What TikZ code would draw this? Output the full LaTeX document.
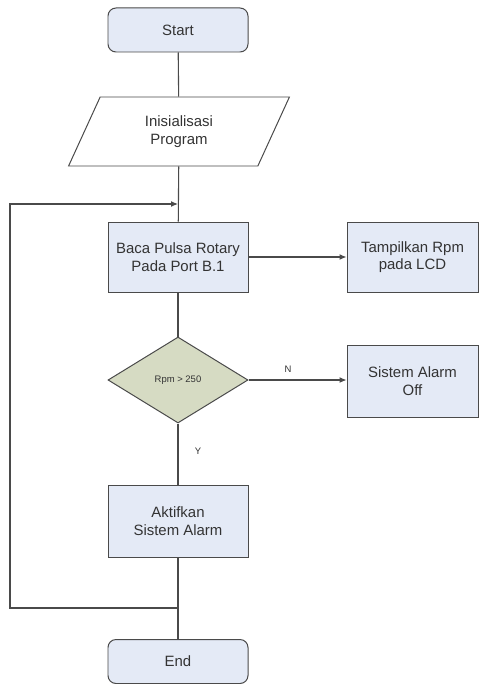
\documentclass[tikz,border=0pt]{standalone}
\usepackage{fontspec}
\setmainfont{Liberation Sans}
\usetikzlibrary{shapes.geometric,arrows.meta}
\definecolor{boxfill}{HTML}{E4EAF6}
\definecolor{decfill}{HTML}{D6DBC3}
\definecolor{edge}{HTML}{4A4A4A}
\definecolor{txt}{HTML}{333333}
\tikzset{
  every node/.style={font=\fontsize{15}{17.5}\selectfont, text=txt, align=center},
  procbox/.style={draw=edge, line width=1pt, fill=boxfill, minimum width=140bp, minimum height=70bp, inner sep=0pt},
  termbox/.style={draw=edge, line width=1pt, fill=boxfill, rounded corners=8bp, minimum width=140bp, minimum height=44bp, inner sep=0pt},
  iobox/.style={draw=edge, line width=1pt, fill=white, trapezium, trapezium left angle=66.5, trapezium right angle=113.5, trapezium stretches=true, minimum width=222bp, minimum height=69bp, inner sep=0pt},
  decbox/.style={draw=edge, line width=1pt, fill=decfill, diamond, aspect=1.63, minimum width=140bp, minimum height=86bp, inner sep=0pt, font=\fontsize{9.5}{11}\selectfont},
  flow/.style={draw=edge, line width=1.1pt},
  flowarr/.style={flow, -{Latex[length=7bp,width=6bp]}},
  lbl/.style={font=\fontsize{9.5}{11}\selectfont}
}
\begin{document}
\begin{tikzpicture}[x=1bp, y=-1bp]
\useasboundingbox (0,0) rectangle (485,684);
\node[termbox] (start) at (178,30) {Start};
\node[iobox] (init) at (179,131.5) {Inisialisasi\\Program};
\node[procbox] (baca) at (178,257) {Baca Pulsa Rotary\\Pada Port B.1};
\node[procbox, minimum width=131bp] (lcd) at (412.5,257) {Tampilkan Rpm\\pada LCD};
\node[decbox] (cek) at (178,380) {Rpm > 250};
\node[procbox, minimum width=131bp, minimum height=72bp] (off) at (412.5,381) {Sistem Alarm\\Off};
\node[procbox, minimum height=72bp] (aktif) at (178,521) {Aktifkan\\Sistem Alarm};
\node[termbox] (end) at (178,661.5) {End};
\coordinate (join) at (178,204);
\coordinate (merge) at (178,608);
\coordinate (lb) at (10,608);
\coordinate (lt) at (10,204);
\node[lbl] (nlab) at (288,369) {N};
\node[lbl] (ylab) at (198,451) {Y};

\draw[flow] (start) -- (init);
\draw[flow] (init) -- (baca);
\draw[flowarr] (baca) -- (lcd);
\draw[flow] (baca) -- (cek);
\draw[flowarr] (cek.east) -- (off.west |- cek.east);
\draw[flow] (cek) -- (aktif);
\draw[flow] (aktif) -- (end);
\draw[flowarr] (merge) -- (lb) -- (lt) -- (join);
\end{tikzpicture}
\end{document}
